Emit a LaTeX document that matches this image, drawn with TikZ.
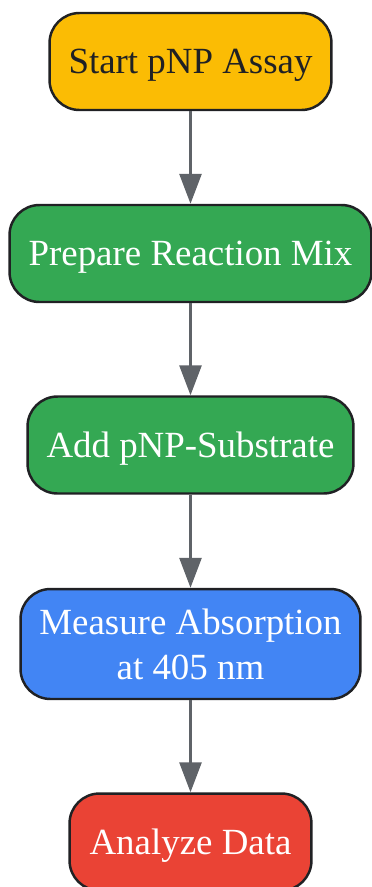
\documentclass[tikz,border=0pt]{standalone}
\usepackage{fontspec}
\setmainfont{Liberation Serif}
\usetikzlibrary{arrows.meta}

\definecolor{startyellow}{HTML}{FBBC04}
\definecolor{stepgreen}{HTML}{34A853}
\definecolor{measureblue}{HTML}{4285F4}
\definecolor{endred}{HTML}{EA4335}
\definecolor{edgegrey}{HTML}{5F6368}
\definecolor{inkdark}{HTML}{202124}

\tikzset{
  stepnode/.style={draw=inkdark, line width=1.4pt, rounded corners=0.6cm, align=center,
    minimum height=1.94cm, font=\fontsize{21}{25.6}\selectfont, text=white},
  oneline/.style={text height=14pt, text depth=0pt},
  flowarrow/.style={draw=edgegrey, line width=1.6pt, -{Triangle[length=0.6cm, width=0.44cm]}}
}

\begin{document}
\begin{tikzpicture}[x=0.02cm, y=-0.02cm]
\clip (0, 0) rectangle (372, 887);
\useasboundingbox (0, 0) rectangle (372, 887);

\node[stepnode, oneline, fill=startyellow, text=inkdark, minimum width=5.64cm] (start) at (190.5, 61.5) {Start pNP Assay};
\node[stepnode, oneline, fill=stepgreen, minimum width=7.24cm] (mix) at (190.5, 253.5) {Prepare Reaction Mix};
\node[stepnode, oneline, fill=stepgreen, minimum width=6.52cm] (substrate) at (190.5, 445) {Add pNP-Substrate};
\node[stepnode, fill=measureblue, minimum width=6.8cm, minimum height=2.2cm] (measure) at (190.5, 644) {Measure Absorption\\at 405 nm};
\node[stepnode, oneline, fill=endred, minimum width=4.84cm] (analyze) at (190.5, 842) {Analyze Data};

\draw[flowarrow] (start) -- (mix);
\draw[flowarrow] (mix) -- (substrate);
\draw[flowarrow] (substrate) -- (measure);
\draw[flowarrow] (measure) -- (analyze);
\end{tikzpicture}
\end{document}
